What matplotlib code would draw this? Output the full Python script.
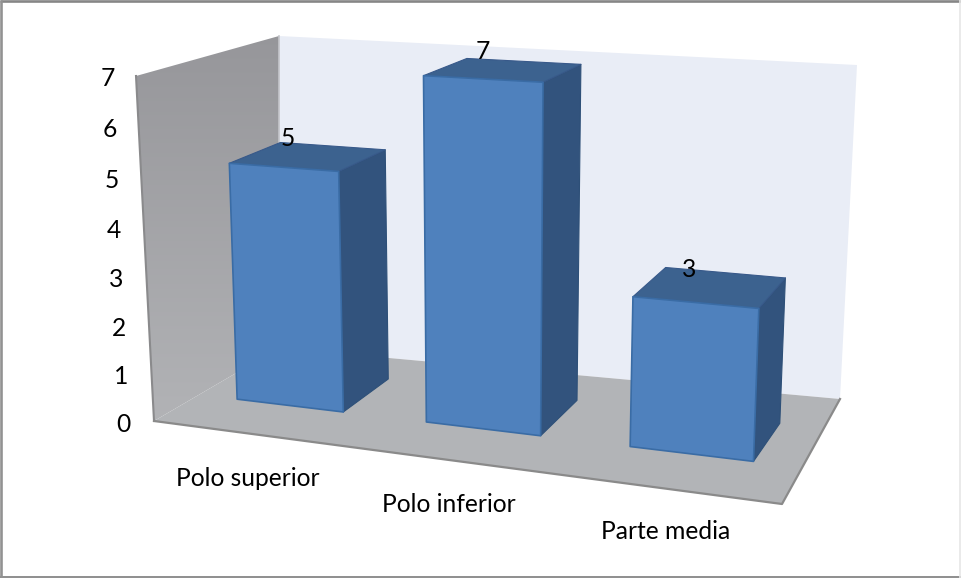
import numpy as np
import matplotlib
matplotlib.use("Agg")
import matplotlib.pyplot as plt
from matplotlib.patches import Polygon

categories = ["Polo superior", "Polo inferior", "Parte media"]
values = [5, 7, 3]
y_ticks = [0, 1, 2, 3, 4, 5, 6, 7]

GAP = 0.215
DEPTH_FRONT = 0.33
DEPTH_BACK = 0.72
g0, g1 = GAP, 1 - GAP
d0, d1 = DEPTH_FRONT, DEPTH_BACK

# Corners of the chart box on the canvas
FLOOR_FL, FLOOR_FR = (154, 421), (782, 504)
FLOOR_BR, FLOOR_BL = (840, 399), (279, 348)
WALL_FT, WALL_BT, WALL_RT = (136, 76), (279, 36), (857, 65)

# Camera calibration: reference points in (category, depth, value) units
# and where they fall on the canvas
calib_world = np.array([
    [0, 0, 0], [3, 0, 0], [3, 1, 0], [0, 1, 0], [0, 0, 7], [0, 1, 7], [3, 1, 7],
    [g0, d0, 5], [g1, d0, 5], [g1, d1, 5], [g0, d1, 5], [g0, d0, 0], [g1, d0, 0], [g1, d1, 0],
    [1 + g0, d0, 7], [1 + g1, d0, 7], [1 + g1, d1, 7], [1 + g0, d1, 7], [1 + g0, d0, 0], [1 + g1, d0, 0], [1 + g1, d1, 0],
    [2 + g0, d0, 3], [2 + g1, d0, 3], [2 + g1, d1, 3], [2 + g0, d1, 3], [2 + g0, d0, 0], [2 + g1, d0, 0], [2 + g1, d1, 0],
], float)
calib_canvas = np.array([
    FLOOR_FL, FLOOR_FR, FLOOR_BR, FLOOR_BL, WALL_FT, WALL_BT, WALL_RT,
    [228, 163], [337, 173], [387, 149], [277, 142], [236, 398], [343, 412], [391, 377],
    [422, 76], [542, 83], [582, 64], [467, 58], [425, 422], [541, 436], [580, 400],
    [632, 298], [758, 311], [785, 278], [665, 267], [629, 447], [753, 463], [780, 423],
], float)


def fit_camera(world, canvas):
    rows = []
    for (x, y, z), (u, v) in zip(world, canvas):
        rows.append([x, y, z, 1, 0, 0, 0, 0, -u*x, -u*y, -u*z, -u])
        rows.append([0, 0, 0, 0, x, y, z, 1, -v*x, -v*y, -v*z, -v])
    return np.linalg.svd(np.array(rows))[2][-1].reshape(3, 4)


P = fit_camera(calib_world, calib_canvas)


def proj(x, y, z):
    h = P @ np.array([x, y, z, 1.0])
    return h[:2] / h[2]


fig = plt.figure(figsize=(9.61, 5.78), dpi=100)
ax = fig.add_axes([0, 0, 1, 1])
ax.set_xlim(0, 961)
ax.set_ylim(578, 0)
ax.axis("off")


def quad(pts, fc, ec="none", lw=0.0, z=1):
    p = Polygon([proj(*q) for q in pts], closed=True, facecolor=fc,
                edgecolor=ec, linewidth=lw, zorder=z, joinstyle="round")
    ax.add_patch(p)
    return p


def canvas_poly(pts, fc, z):
    p = Polygon(pts, closed=True, facecolor=fc, edgecolor="none", zorder=z)
    ax.add_patch(p)
    return p


# back wall
canvas_poly([FLOOR_BL, FLOOR_BR, WALL_RT, WALL_BT], "#E9EDF6", 1)

# side wall with a vertical gradient
side = canvas_poly([FLOOR_FL, FLOOR_BL, WALL_BT, WALL_FT], "none", 2)
grad = np.linspace(0, 1, 256)[:, None, None]
c0 = np.array([0x96, 0x96, 0x9A]) / 255
c1 = np.array([0xB2, 0xB3, 0xB6]) / 255
img = c0[None, None, :] * (1 - grad) + c1[None, None, :] * grad
im = ax.imshow(img, extent=(130, 285, 425, 30), aspect="auto", zorder=2)
im.set_clip_path(side)
ax.set_xlim(0, 961)
ax.set_ylim(578, 0)
ax.plot(*zip(FLOOR_FL, WALL_FT), color="#8A8A8C", lw=1.5, zorder=2.5)
ax.plot(*zip(FLOOR_BL, WALL_BT), color="#C4C5CA", lw=1.2, zorder=2.5)

# floor
canvas_poly([FLOOR_FL, FLOOR_FR, FLOOR_BR, FLOOR_BL], "#B2B4B7", 3)
ax.plot(*zip(FLOOR_FL, FLOOR_FR, FLOOR_BR), color="#8A8A8A", lw=1.6, zorder=3.5)

TEXT = dict(ha="center", va="center", fontsize=17.7, family="Lato", color="black", zorder=10)

# bars, drawn left to right
for i, v in enumerate(values):
    x0, x1 = i + g0, i + g1
    zb = 4 + i
    quad([(x1, d0, 0), (x1, d1, 0), (x1, d1, v), (x1, d0, v)], "#32537D", "#2E5078", 0.8, zb)
    quad([(x0, d0, v), (x1, d0, v), (x1, d1, v), (x0, d1, v)], "#3C628F", "#38598A", 0.8, zb)
    quad([(x0, d0, 0), (x1, d0, 0), (x1, d0, v), (x0, d0, v)], "#4F81BD", "#3A6CA5", 1.2, zb)
    c = proj(i + 0.5, (d0 + d1) / 2, v)
    ax.text(c[0] - 21, c[1] - 18, str(v), **TEXT)
    b = proj(i + 0.5, 0, 0)
    ax.text(b[0] + 2, b[1] + 43, categories[i], **TEXT)

# value axis labels follow the front edge of the side wall
for t in y_ticks:
    p = proj(0, 0, t)
    ax.text(p[0] - 28, p[1] + 1, str(t), **TEXT)

# chart frame
frame = [([0, 961], [1.2, 1.2], "#868686", 1.9), ([0, 961], [576.5, 576.5], "#8E8E8E", 1.4),
         ([1.2, 1.2], [0, 578], "#929292", 1.9), ([960, 960], [0, 578], "#E6E6E6", 1.2)]
for xs, ys, col, w in frame:
    ax.plot(xs, ys, color=col, lw=w, zorder=11, solid_capstyle="butt")

fig.savefig("out.png", dpi=100)
